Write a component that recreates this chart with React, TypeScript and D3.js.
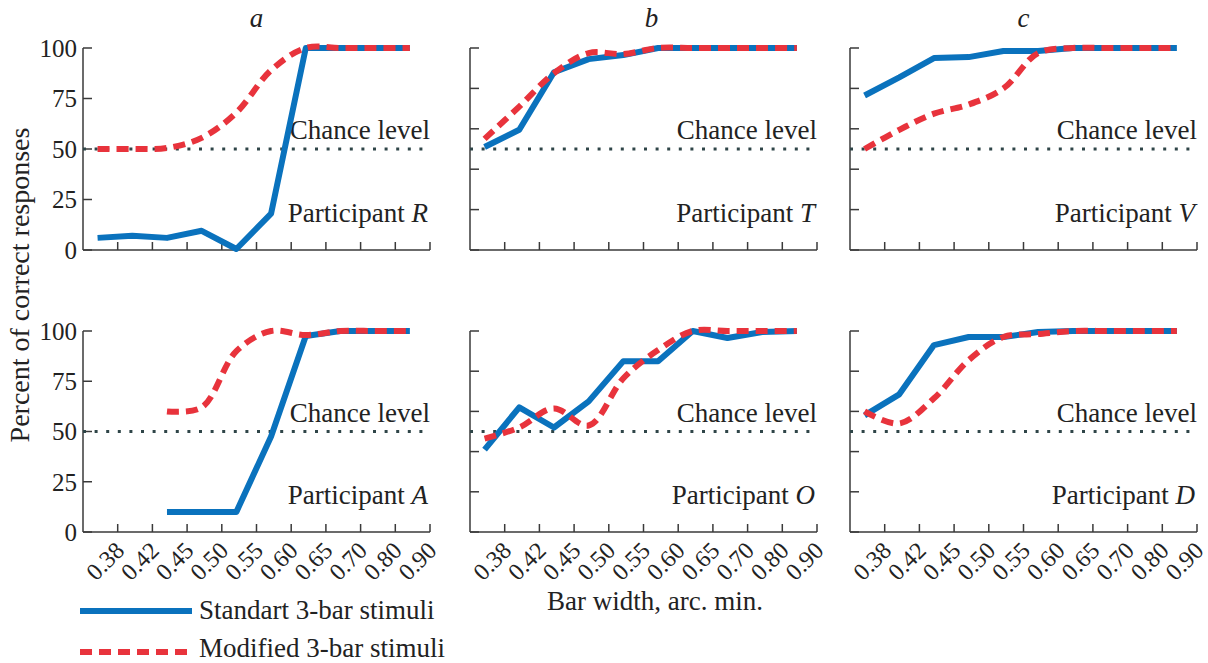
import React from "react";
import * as d3 from "d3";

const categories = ["0.38", "0.42", "0.45", "0.50", "0.55", "0.60", "0.65", "0.70", "0.80", "0.90"];
const panelLetters = ["a", "b", "c"];
const participantsTop = ["R", "T", "V"];
const participantsBottom = ["A", "O", "D"];

// Standart 3-bar stimuli (blue)
const standardR = [6, 7, 6, 9.5, 0.5, 18, 100, 100, 100, 100];
const standardT = [51, 59.5, 88, 94.5, 96.5, 100, 100, 100, 100, 100];
const standardV = [76.5, 85.5, 95, 95.5, 98.5, 98.5, 100, 100, 100, 100];
const standardA = [null, null, 10, 10, 10, 47.5, 97.5, 100, 100, 100];
const standardO = [41, 62, 52, 65, 85, 85, 100, 96.5, 99.5, 100];
const standardD = [58, 68.5, 93, 97, 97, 99.5, 100, 100, 100, 100];

// Modified 3-bar stimuli (red)
const modifiedR = [50, 50, 50.5, 55.5, 68, 89, 100, 100, 100, 100];
const modifiedT = [55, 71, 87.5, 97.5, 97, 100, 100, 100, 100, 100];
const modifiedV = [50, 59.5, 67.5, 72, 80, 97.5, 100, 100, 100, 100];
const modifiedA = [null, null, 60, 62, 90, 100, 98, 100, 100, 100];
const modifiedO = [46.5, 52, 61.5, 53, 76.5, 90.5, 100, 100, 100, 100];
const modifiedD = [60, 54, 66.5, 85.5, 97, 98.5, 100, 100, 100, 100];

const labeledTicks = [0, 25, 50, 75, 100];
const plainTicks = [0, 20, 40, 60, 80, 100];
const chanceLevel = 50;

const BLUE = "#0a72bd";
const RED = "#e8333c";
const AXIS = "#3a3a3a";
const DOT = "#2f4548";
const FONT = "'Liberation Serif', 'Times New Roman', serif";

const panelLefts = [83, 470, 850];
const panelW = 347;
const rows = [
  { top: 48, bottom: 250, participants: participantsTop, std: [standardR, standardT, standardV], mod: [modifiedR, modifiedT, modifiedV] },
  { top: 331, bottom: 532, participants: participantsBottom, std: [standardA, standardO, standardD], mod: [modifiedA, modifiedO, modifiedD] },
];

type V = number | null;

function Panel({ left, top, bottom, std, mod, participant, col, showXLabels }: {
  left: number; top: number; bottom: number; std: V[]; mod: V[]; participant: string; col: number; showXLabels: boolean;
}) {
  const x = d3.scaleLinear().domain([0, categories.length]).range([left, left + panelW]);
  const y = d3.scaleLinear().domain([0, 100]).range([bottom, top]);
  const px = (i: number) => x(i + 0.42);
  const lineStd = d3.line<V>().defined(d => d != null).x((_, i) => px(i)).y(d => y(d as number));
  const lineMod = d3.line<V>().defined(d => d != null).x((_, i) => px(i)).y(d => y(d as number)).curve(d3.curveCatmullRom.alpha(0.5));
  const yTicks = col === 0 ? labeledTicks : plainTicks;
  const right = left + panelW;
  return (
    <g>
      {/* y axis */}
      <line x1={left} x2={left} y1={y(0)} y2={y(100)} stroke={AXIS} strokeWidth={1.5} />
      {yTicks.map(t => (
        <g key={t}>
          <line x1={left} x2={left + 9} y1={y(t)} y2={y(t)} stroke={AXIS} strokeWidth={1.5} />
          {col === 0 && (
            <text x={left - 6} y={y(t)} dy="0.35em" textAnchor="end" fontSize={25} fontFamily={FONT} fill="#222">{t}</text>
          )}
        </g>
      ))}
      {/* x axis */}
      <line x1={left} x2={right} y1={y(0)} y2={y(0)} stroke={AXIS} strokeWidth={1.5} />
      {categories.map((c, k) => (
        <g key={c}>
          <line x1={x(k + 1)} x2={x(k + 1)} y1={y(0)} y2={y(0) - 8} stroke={AXIS} strokeWidth={1.5} />
          {showXLabels && (
            <text transform={`translate(${x(k + 1) + 8},${y(0) + 20}) rotate(-45)`} textAnchor="end" fontSize={24} fontFamily={FONT} fill="#222">{c}</text>
          )}
        </g>
      ))}
      {/* chance level */}
      <line x1={left} x2={right} y1={y(chanceLevel)} y2={y(chanceLevel)} stroke={DOT} strokeWidth={3} strokeDasharray="3 8.6" />
      <text x={right} y={y(chanceLevel) - 10} textAnchor="end" fontSize={27} fontFamily={FONT} fill="#222">Chance level</text>
      <text x={right - 2} y={y(14)} textAnchor="end" fontSize={27} fontFamily={FONT} fill="#222">
        Participant <tspan fontStyle="italic">{participant}</tspan>
      </text>
      {/* series */}
      <path d={lineStd(std) || ""} fill="none" stroke={BLUE} strokeWidth={6} strokeLinejoin="round" />
      <path d={lineMod(mod) || ""} fill="none" stroke={RED} strokeWidth={6} strokeDasharray="12 7" />
    </g>
  );
}

export default function App() {
  return (
    <div style={{ position: "absolute", left: 0, top: 0 }}>
      <svg width={1208} height={663} style={{ display: "block", background: "#fff" }}>
        {panelLetters.map((l, i) => (
          <text key={l} x={panelLefts[i] + panelW / 2 + (i === 1 ? 8 : 0)} y={27} textAnchor="middle" fontSize={27} fontStyle="italic" fontFamily={FONT} fill="#222">{l}</text>
        ))}
        {rows.map((r, ri) =>
          panelLefts.map((left, ci) => (
            <Panel key={`${ri}-${ci}`} left={left} top={r.top} bottom={r.bottom} std={r.std[ci]} mod={r.mod[ci]}
              participant={r.participants[ci]} col={ci} showXLabels={ri === 1} />
          ))
        )}
        <text transform="translate(29,285) rotate(-90)" textAnchor="middle" fontSize={28} fontFamily={FONT} fill="#222">Percent of correct responses</text>
        <text x={655} y={610} textAnchor="middle" fontSize={27} fontFamily={FONT} fill="#222">Bar width, arc. min.</text>
        {/* legend */}
        <line x1={80} x2={192} y1={611} y2={611} stroke={BLUE} strokeWidth={6} />
        <text x={199} y={619} fontSize={27} fontFamily={FONT} fill="#222">Standart 3-bar stimuli</text>
        <line x1={80} x2={192} y1={652} y2={652} stroke={RED} strokeWidth={6} strokeDasharray="12 7" />
        <text x={199} y={657} fontSize={27} fontFamily={FONT} fill="#222">Modified 3-bar stimuli</text>
      </svg>
    </div>
  );
}
